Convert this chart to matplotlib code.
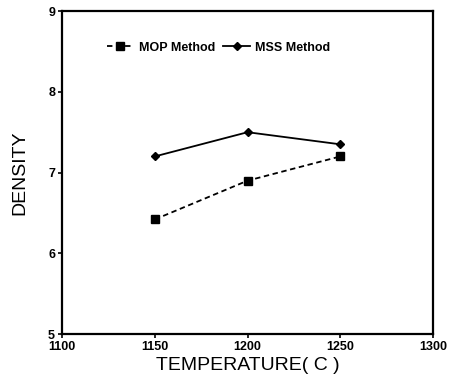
import matplotlib
matplotlib.use("Agg")
import matplotlib.pyplot as plt

# values
temperature = [1150, 1200, 1250]
mop_density = [6.42, 6.90, 7.20]
mss_density = [7.20, 7.50, 7.35]
x_ticks = [1100, 1150, 1200, 1250, 1300]
y_ticks = [5, 6, 7, 8, 9]

plt.rcParams['font.family'] = ['Liberation Sans', 'DejaVu Sans']

fig = plt.figure(figsize=(4.53, 3.81), dpi=100)
ax = fig.add_axes([0.137, 0.123, 0.819, 0.848])

ax.plot(temperature, mop_density, color='black', linestyle=(0, (3, 2)), linewidth=1.3,
        marker='s', markersize=5.5, label='MOP Method')
ax.plot(temperature, mss_density, color='black', linestyle='-', linewidth=1.3,
        marker='D', markersize=4, label='MSS Method')

ax.set_xlim(1100, 1300)
ax.set_ylim(5, 9)
ax.set_xticks(x_ticks)
ax.set_yticks(y_ticks)
ax.tick_params(direction='out', length=3, width=1.2, labelsize=9, pad=2)
for lbl in ax.get_xticklabels() + ax.get_yticklabels():
    lbl.set_fontweight('bold')
for s in ax.spines.values():
    s.set_linewidth(1.6)

ax.set_xlabel('TEMPERATURE( C )', fontsize=14, labelpad=3)
ax.set_ylabel('DENSITY', fontsize=14, labelpad=14)

ax.legend(loc='upper left', bbox_to_anchor=(0.09, 0.94), ncol=2, frameon=False,
          handlelength=2.2, columnspacing=0.6, handletextpad=0.4,
          prop={'weight': 'bold', 'size': 9})

fig.savefig('out.png', dpi=100)
